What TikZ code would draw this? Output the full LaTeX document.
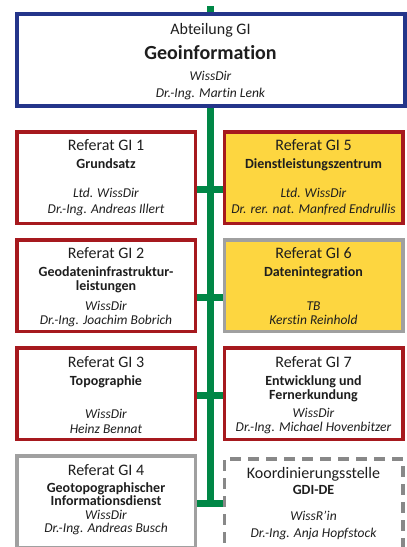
\documentclass[tikz,border=0pt]{standalone}
\usepackage{fontspec}
\setmainfont{Carlito}[Ligatures={NoCommon,NoRare}]
\usetikzlibrary{shadows}
\definecolor{giblue}{RGB}{36,53,138}
\definecolor{gired}{RGB}{166,25,30}
\definecolor{gigreen}{RGB}{0,135,70}
\definecolor{giyellow}{RGB}{253,214,64}
\definecolor{gigray}{RGB}{160,160,160}
\definecolor{gitext}{RGB}{30,30,30}
\newcommand\reftitle[1]{{\mdseries\fontsize{16}{18}\selectfont #1}}
\begin{document}
\begin{tikzpicture}[x=1pt,y=-1pt,
  box/.style={draw=gired,line width=3.5pt,minimum width=178.5pt,minimum height=91.5pt,inner sep=0pt,fill=white},
  shade/.style={drop shadow={shadow xshift=1.5pt,shadow yshift=-2pt,opacity=.25,fill=black}},
  head/.style={anchor=north,align=center,inner sep=0pt,text=gitext,font=\fontsize{14}{14}\selectfont\bfseries},
  who/.style={anchor=south,align=center,inner sep=0pt,text depth=0pt,text=gitext,font=\fontsize{13.5}{15}\selectfont\itshape},
  link/.style={gigreen,line width=7pt}]
\useasboundingbox (0,0) rectangle (407,547);
\coordinate (top) at (210.5,6);
\coordinate (c1) at (210.5,189);
\coordinate (c2) at (210.5,297);
\coordinate (c3) at (210.5,395);
\coordinate (c4) at (210.5,503);
\draw[link] (top) -- (c4);
\node[box,shade,draw=giblue,line width=4pt,minimum width=387.5pt,minimum height=92pt] (abt) at (210.75,60) {};
\node[head,font=\fontsize{20}{22}\selectfont\bfseries] (abth) at (210.5,22.8) {\reftitle{Abteilung GI}\\[3pt]Geoinformation};
\node[who] (abtw) at (210.5,97.3) {WissDir\\[2pt]Dr.-Ing. Martin Lenk};
\node[box,shade] (gi1) at (106,177.5) {};
\node[box,shade,fill=giyellow] (gi5) at (313.5,177.5) {};
\node[box,shade] (gi2) at (106,285.5) {};
\node[box,shade,fill=giyellow,draw=gigray] (gi6) at (313.5,285.5) {};
\node[box,shade] (gi3) at (106,393.5) {};
\node[box,shade] (gi7) at (313.5,393.5) {};
\node[box,shade,draw=gigray] (gi4) at (106,501.5) {};
\node[box,draw=gigray!85!black,dash pattern=on 11pt off 7pt] (koord) at (313.5,504.5) {};
\node[head] (gi1h) at (106,139.5) {\reftitle{Referat GI 1}\\[4pt]Grundsatz};
\node[head] (gi5h) at (313.5,139.5) {\reftitle{Referat GI 5}\\[4pt]Dienstleistungszentrum};
\node[head] (gi2h) at (106,247.5) {\reftitle{Referat GI 2}\\[4pt]Geodateninfrastruktur-\\leistungen};
\node[head] (gi6h) at (313.5,247.5) {\reftitle{Referat GI 6}\\[4pt]Datenintegration};
\node[head] (gi3h) at (106,356.5) {\reftitle{Referat GI 3}\\[4pt]Topographie};
\node[head] (gi7h) at (313.5,356.5) {\reftitle{Referat GI 7}\\[4pt]Entwicklung und\\Fernerkundung};
\node[head] (gi4h) at (106,464.5) {\reftitle{Referat GI 4}\\[3pt]Geotopographischer\\[-1pt]Informationsdienst};
\node[head] (koordh) at (313.5,467.5) {\reftitle{Koordinierungsstelle}\\[2pt]GDI-DE};
\node[who] (gi1w) at (106,214) {Ltd. WissDir\\[1.5pt]Dr.-Ing. Andreas Illert};
\node[who] (gi5w) at (313.5,214) {Ltd. WissDir\\[1.5pt]Dr. rer. nat. Manfred Endrullis};
\node[who] (gi2w) at (106,325) {WissDir\\[-1pt]Dr.-Ing. Joachim Bobrich};
\node[who] (gi6w) at (313.5,325) {TB\\[-1pt]Kerstin Reinhold};
\node[who] (gi3w) at (106,434) {WissDir\\Heinz Bennat};
\node[who] (gi7w) at (313.5,431.7) {WissDir\\[-1pt]Dr.-Ing. Michael Hovenbitzer};
\node[who] (gi4w) at (106,533) {WissDir\\[-2pt]Dr.-Ing. Andreas Busch};
\node[who] (koordw) at (313.5,538) {WissR’in\\[2pt]Dr.-Ing. Anja Hopfstock};
\draw[link] (gi1.east |- c1) -- (gi5.west |- c1);
\draw[link] (gi2.east |- c2) -- (gi6.west |- c2);
\draw[link] (gi3.east |- c3) -- (gi7.west |- c3);
\draw[link] (gi4.east |- c4) -- (koord.west |- c4);
\end{tikzpicture}
\end{document}
